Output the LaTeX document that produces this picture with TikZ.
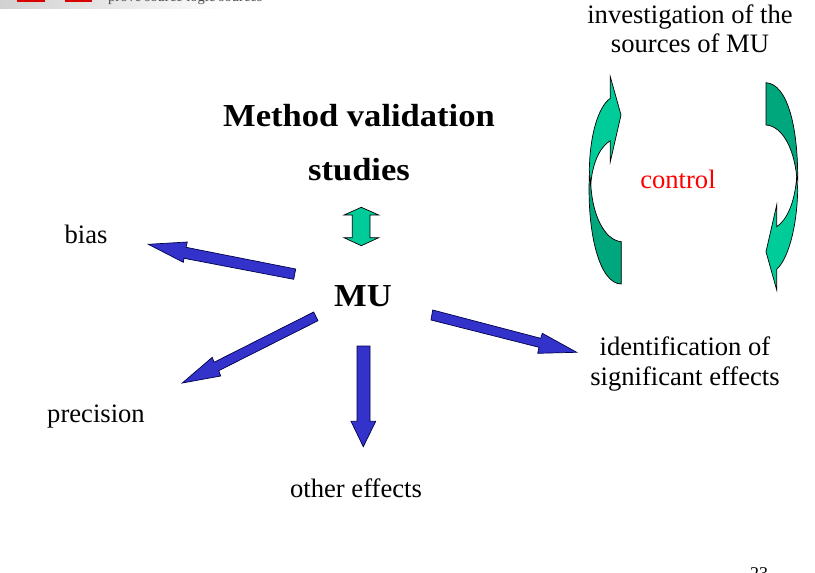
\documentclass[tikz,border=0pt]{standalone}
\usepackage{fontspec}
\setmainfont{Liberation Serif}
\newfontfamily\widefont[FakeStretch=1.08]{Liberation Serif}
\tikzset{x=1pt,y=-1pt,
 lbl/.style={inner sep=0pt,align=center,font=\fontsize{26.6}{29.3}\selectfont},
 head/.style={inner sep=0pt,align=center,font=\widefont\fontsize{32}{54}\selectfont\bfseries},
 blue arrow/.style={draw=black!70!blue,line width=.7pt,fill=arrowblue,line join=miter},
 light/.style={draw=black,line width=.7pt,fill=lightgreen,line join=miter},
 dark/.style={draw=black,line width=.7pt,fill=darkgreen,line join=miter}}
\definecolor{arrowblue}{HTML}{3333CC}
\definecolor{lightgreen}{HTML}{00CC99}
\definecolor{darkgreen}{HTML}{00A67C}
\begin{document}
\begin{tikzpicture}
\useasboundingbox (0,0) rectangle (815,573);
\fill[white] (0,0) rectangle (815,573);
% cropped page header
\shade[left color=black!18,right color=white] (0,0) rectangle (235,8);
\fill[red!85!black] (17,0) rectangle (45,2);
\fill[red!85!black] (65,0) rectangle (92,2);
\begin{scope}
\clip (100,0) rectangle (270,8);
\node[anchor=base west,inner sep=0pt,text=black!70,font=\fontsize{14.5}{15}\selectfont] (hdr) at (108,1) {prove source logic sources};
\end{scope}
% texts
\node[head] (title) at (359,143) {Method validation\\studies};
\node[lbl,font=\widefont\fontsize{32}{32}\selectfont\bfseries] (mu) at (363,296.5) {MU};
\node[lbl] (bias) at (86,234.5) {bias};
\node[lbl] (prec) at (96,417) {precision};
\node[lbl] (other) at (356,488) {other effects};
\node[lbl] (ident) at (685,364) {identification of\\significant effects};
\node[lbl] (inv) at (690,28.5) {investigation of the\\sources of MU};
\node[lbl,text=red] (ctrl) at (678,179) {control};
\node[lbl,anchor=base,font=\fontsize{18}{20}\selectfont] (pg) at (759,579) {23};
% double arrow
\draw[light] (361.3,207.3) -- (344,215) -- (352.3,215) -- (352.3,237.7) -- (344,237.7) -- (361.3,245.7) -- (378.7,237.7) -- (370,237.7) -- (370,215) -- (378.7,215) -- cycle;
% blue arrows
\draw[blue arrow] (295.7,269) -- (186,247.3) -- (187.3,242) -- (148.3,244.3) -- (183.3,262.3) -- (184,258.3) -- (293.7,279.3) -- cycle;
\draw[blue arrow] (313.7,312) -- (214,362.3) -- (212.3,357.3) -- (182.3,383) -- (220.7,376) -- (218.7,370.7) -- (318,320.7) -- cycle;
\draw[blue arrow] (357,346) -- (370,346) -- (370,421.3) -- (375.7,421.3) -- (363.3,446.7) -- (351,421.3) -- (357,421.3) -- cycle;
\draw[blue arrow] (432.7,310) -- (431,320) -- (539,347.3) -- (537.7,353.3) -- (576.7,352.3) -- (542.3,333.3) -- (540.7,338.3) -- cycle;
% circular arrows, left
\draw[dark] (621.3,241.7) .. controls (604,240) and (592,214) .. (590.7,183) -- (589.3,176) .. controls (587,235) and (600,284) .. (621.3,284) -- cycle;
\draw[light] (610.3,76.7) -- (621,115) -- (610.3,161.7) -- (610.3,140.7) .. controls (600,147) and (592,163) .. (590.7,186) -- (589.3,170) .. controls (590,135) and (598,107) .. (610.3,98.3) -- cycle;
% circular arrows, right
\draw[dark] (766,82.7) .. controls (787,84) and (798,125) .. (797.7,180) -- (796.7,176.7) .. controls (794,148) and (782,126) .. (766,125) -- cycle;
\draw[light] (776.7,290) -- (766,251.7) -- (776.7,205) -- (776.7,226.7) .. controls (787,220) and (795,202) .. (796.7,176.7) -- (797.7,190) .. controls (797,225) and (789,258) .. (776.7,269.3) -- cycle;
\end{tikzpicture}
\end{document}
